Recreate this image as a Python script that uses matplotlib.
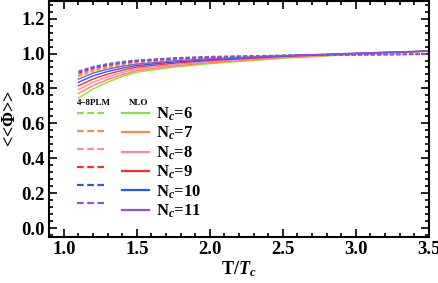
import numpy as np
import matplotlib
matplotlib.use('Agg')
from matplotlib import pyplot as plt
from matplotlib.ticker import MultipleLocator

plt.rcParams['font.family'] = 'Liberation Serif'
plt.rcParams['font.weight'] = 'bold'
plt.rcParams['mathtext.fontset'] = 'custom'
plt.rcParams['mathtext.rm'] = 'Liberation Serif:bold'
plt.rcParams['mathtext.it'] = 'Liberation Serif:italic:bold'
plt.rcParams['mathtext.bf'] = 'Liberation Serif:bold'

# temperature grid T/Tc
T = [1.1, 1.2, 1.3, 1.4, 1.5, 1.75, 2.0, 2.5, 3.0, 3.5]
nc_values = [6, 7, 8, 9, 10, 11]
colors = ['#88e048', '#ff8844', '#ff88aa', '#ff2a2a', '#2a5ae6', '#9050e0']

# NLO (solid)
nlo = [
    [0.745, 0.797, 0.836, 0.868, 0.893, 0.922, 0.942, 0.973, 0.995, 1.012],
    [0.771, 0.816, 0.851, 0.879, 0.902, 0.929, 0.948, 0.976, 0.997, 1.013],
    [0.794, 0.835, 0.866, 0.891, 0.912, 0.936, 0.954, 0.980, 0.999, 1.013],
    [0.815, 0.854, 0.882, 0.904, 0.922, 0.944, 0.960, 0.983, 1.000, 1.014],
    [0.835, 0.872, 0.897, 0.916, 0.931, 0.951, 0.965, 0.986, 1.001, 1.014],
    [0.853, 0.888, 0.910, 0.927, 0.939, 0.958, 0.970, 0.988, 1.002, 1.015],
]

# 4-8 PLM (dashed)
plm = [
    [0.868, 0.898, 0.918, 0.932, 0.943, 0.961, 0.972, 0.985, 0.992, 0.995],
    [0.874, 0.903, 0.923, 0.937, 0.947, 0.964, 0.974, 0.986, 0.992, 0.995],
    [0.880, 0.909, 0.928, 0.941, 0.951, 0.966, 0.976, 0.987, 0.993, 0.996],
    [0.887, 0.914, 0.932, 0.945, 0.955, 0.969, 0.978, 0.988, 0.993, 0.996],
    [0.893, 0.920, 0.937, 0.950, 0.958, 0.972, 0.980, 0.989, 0.994, 0.996],
    [0.899, 0.925, 0.942, 0.954, 0.962, 0.975, 0.983, 0.990, 0.994, 0.996],
]

fig = plt.figure(figsize=(4.39, 2.83), dpi=100)
ax = fig.add_axes([0.112, 0.163, 0.865, 0.833])

dashed_handles = []
solid_handles = []
for k in range(len(nc_values)):
    d, = ax.plot(T, plm[k], color=colors[k], lw=1.0, dashes=(3, 1.6))
    s, = ax.plot(T, nlo[k], color=colors[k], lw=1.0)
    dashed_handles.append(d)
    solid_handles.append(s)

ax.set_xlim(0.9, 3.5)
ax.set_ylim(-0.05, 1.3)
ax.xaxis.set_major_locator(MultipleLocator(0.5))
ax.xaxis.set_minor_locator(MultipleLocator(0.1))
ax.yaxis.set_major_locator(MultipleLocator(0.2))
ax.yaxis.set_minor_locator(MultipleLocator(0.04))
ax.tick_params(which='both', direction='in', top=True, right=True, labelsize=13.5, width=1.2)
ax.tick_params(which='major', length=6, pad=3)
ax.tick_params(which='minor', length=3)
for lab in ax.get_xticklabels() + ax.get_yticklabels():
    lab.set_fontweight('bold')
for sp in ax.spines.values():
    sp.set_linewidth(1.5)

ax.set_xlabel(r'T/$T_c$', fontsize=13, fontweight='bold', labelpad=1)
ax.set_ylabel(r'<<$\widehat{\Phi}$>>', fontsize=13, fontweight='bold')
ax.yaxis.set_label_coords(-0.078, 0.5)

labels = [''] * len(nc_values) + [r'N$_c$=%d' % n for n in nc_values]
leg = ax.legend(dashed_handles + solid_handles, labels, ncol=2, loc='upper left',
                bbox_to_anchor=(0.056, 0.585), frameon=False,
                prop={'size': 12, 'weight': 'bold'},
                handlelength=1.6, handletextpad=0.42, columnspacing=0.7,
                labelspacing=0.12, borderaxespad=0)
for line in leg.get_lines():
    line.set_linewidth(1.6)
ax.text(0.074, 0.55, '4\u22128PLM', transform=ax.transAxes, fontsize=6.5,
        fontweight='bold', va='bottom')
ax.text(0.21, 0.55, 'NLO', transform=ax.transAxes, fontsize=6.5,
        fontweight='bold', va='bottom')

plt.savefig('out.png', dpi=100)
